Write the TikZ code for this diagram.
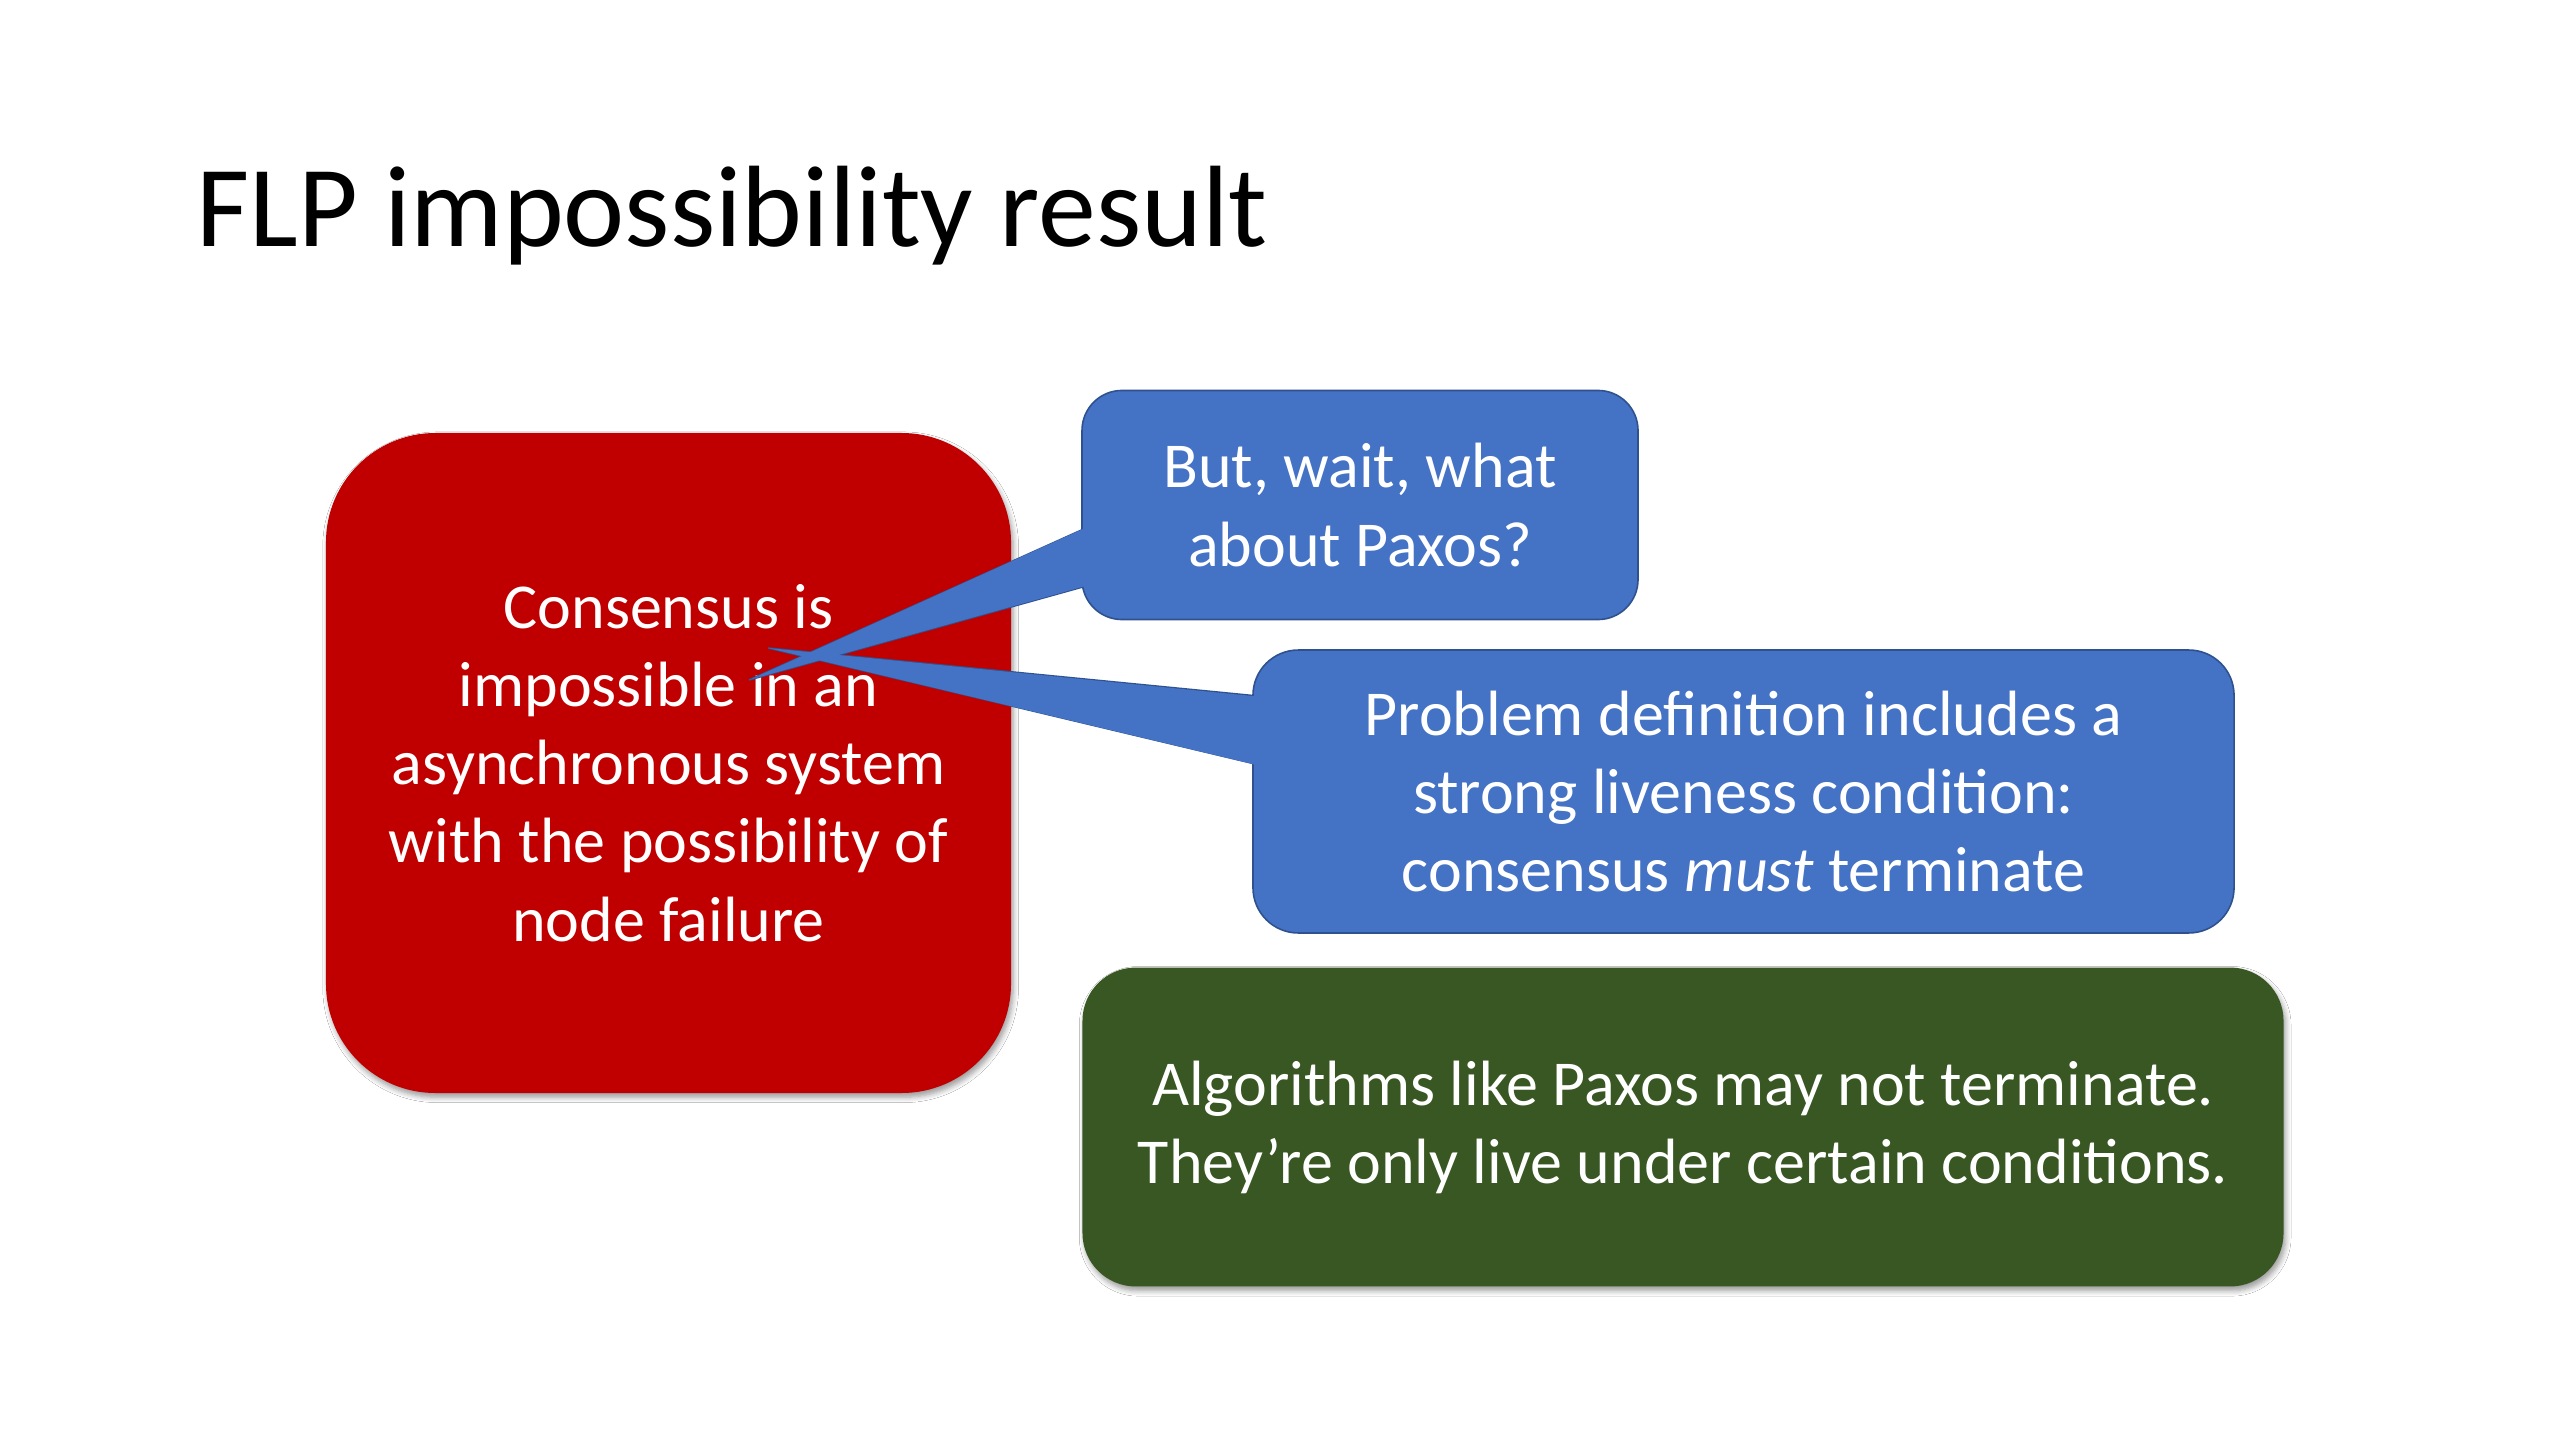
\documentclass[tikz,border=0pt]{standalone}
\usepackage{fontspec}
\setmainfont{Carlito}
\usetikzlibrary{calc,shadows.blur}
\definecolor{boxred}{HTML}{C00000}
\definecolor{boxblue}{HTML}{4472C4}
\definecolor{boxblueline}{HTML}{2F528F}
\definecolor{boxgreen}{HTML}{385723}
\begin{document}
\begin{tikzpicture}[x=0.375pt,y=-0.375pt,
  body/.style={text=white,font=\fontsize{24}{29.3}\selectfont,align=center,inner sep=0pt},
  softshadow/.style={blur shadow={shadow xshift=0.8pt,shadow yshift=-1.6pt,shadow blur radius=2pt,shadow blur steps=6,shadow opacity=40}},
  redbox/.style={body,fill=boxred,rounded corners=41pt,minimum width=256.9pt,minimum height=247.5pt,softshadow},
  greenbox/.style={body,fill=boxgreen,rounded corners=20pt,minimum width=450.4pt,minimum height=119.6pt,softshadow},
  bluebox/.style={body,fill=boxblue,draw=boxblueline,line width=0.6pt,rounded corners=15pt},
  tailline/.style={fill=boxblue,draw=boxblueline,line width=0.6pt,line join=miter},
  tailfill/.style={fill=boxblue},
]
\useasboundingbox[fill=white] (0,0) rectangle (2560,1440);

\node[anchor=base west,font=\fontsize{43.4}{52}\selectfont] (title) at (187,247) {FLP impossibility result};

\node[redbox] (red) at (668.5,763) {Consensus is\\impossible in an\\asynchronous system\\with the possibility of\\node failure};

\node[greenbox] (green) at (1683,1127) {Algorithms like Paxos may not terminate.\\They’re only live under certain conditions.};

\coordinate (tipA) at (749,680);
\coordinate (tipB) at (768,648);

% tails with outline
\path[tailline] ($(1082,505)+(15,18)$) -- (tipA) -- ($(1082,505)+(15,78)$) -- cycle;
\path[tailline] ($(1253,791)+(15,-94)$) -- (tipB) -- ($(1253,791)+(15,-24)$) -- cycle;

\node[bluebox,minimum width=208.5pt,minimum height=85.9pt] (b1) at (1360,505) {But, wait, what\\about Paxos?};
\node[bluebox,minimum width=367.9pt,minimum height=106.1pt,rounded corners=17pt] (b2) at (1743.5,791.5) {Problem definition includes a\\strong liveness condition:\\consensus \textit{must} terminate};

% refill tails to merge with boxes
\path[tailfill] ($(b1.west)+(15,18)$) -- (tipA) -- ($(b1.west)+(15,78)$) -- cycle;
\path[tailfill] ($(b2.west)+(15,-94)$) -- (tipB) -- ($(b2.west)+(15,-24)$) -- cycle;
\end{tikzpicture}
\end{document}
